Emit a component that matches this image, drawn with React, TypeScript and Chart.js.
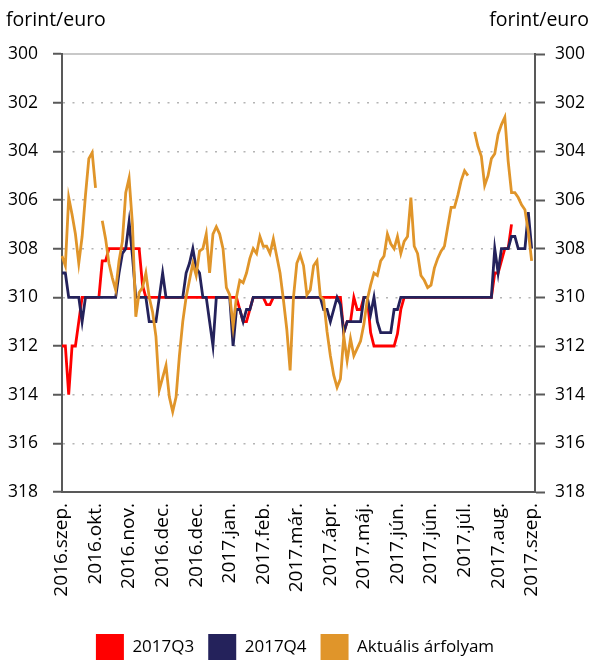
import { useEffect, useRef } from 'react';
import { Chart, registerables } from 'chart.js';

Chart.register(...registerables);

const FONT = "'Open Sans', sans-serif";
const unitLabel = 'forint/euro';

const monthLabels = [
  '2016.szep.', '2016.okt.', '2016.nov.', '2016.dec.', '2016.dec.',
  '2017.jan.', '2017.feb.', '2017.már.', '2017.ápr.', '2017.máj.',
  '2017.jún.', '2017.jún.', '2017.júl.', '2017.aug.', '2017.szep.',
];
const labelEvery = 10;

const seriesNames = ['2017Q3', '2017Q4', 'Aktuális árfolyam'];

const q3 = [
  312, 312, 314, 312, 312, 311, 310, 310, 310, 310,
  310, 310, 308.5, 308.5, 308, 308, 308, 308, 308, 308,
  308, 308, 308, 308, 309.5, 310, 310, 310, 310, 310,
  310, 310, 310, 310, 310, 310, 310, 310, 310, 310,
  310, 310, 310, 310, 310, 310, 310, 310, 310, 310,
  310, 310, 310, 310.5, 311, 311, 310.5, 310, 310, 310,
  310, 310.3, 310.3, 310, 310, 310, 310, 310, 310, 310,
  310, 310, 310, 310, 310, 310, 310, 310, 310, 310,
  310, 310, 310, 310, 311.45, 311, 311, 310, 310.5, 310.5,
  310, 310, 311.45, 312, 312, 312, 312, 312, 312, 312,
  311.5, 310.5, 310, 310, 310, 310, 310, 310, 310, 310,
  310, 310, 310, 310, 310, 310, 310, 310, 310, 310,
  310, 310, 310, 310, 310, 310, 310, 310, 310, 309,
  309, 308.5, 308, 308, 307, null, null, null, null, null,
  null, null,
];

const q4 = [
  309, 309, 310, 310, 310, 310, 311, 310, 310, 310,
  310, 310, 310, 310, 310, 310, 310, 309, 308.2, 308,
  306.9, 308.3, 310, 310, 310, 310, 311, 311, 311, 310,
  309, 310, 310, 310, 310, 310, 310, 309, 308.6, 308,
  308.8, 309, 310, 310, 311, 312, 310, 310, 310, 310,
  310, 312, 310.5, 310.5, 311, 310.5, 310.5, 310, 310, 310,
  310, 310, 310, 310, 310, 310, 310, 310, 310, 310,
  310, 310, 310, 310, 310, 310, 310, 310, 310.5, 310.5,
  311, 310.5, 310, 310.3, 311.45, 311, 311, 311, 311, 311,
  310, 310, 310.7, 310, 311, 311.45, 311.45, 311.45, 311.45, 310.5,
  310.5, 310, 310, 310, 310, 310, 310, 310, 310, 310,
  310, 310, 310, 310, 310, 310, 310, 310, 310, 310,
  310, 310, 310, 310, 310, 310, 310, 310, 310, 308,
  309, 308, 308, 308, 307.5, 307.5, 308, 308, 308, 306.5,
  308, null,
];

const spot = [
  308.3, 308.7, 305.9, 306.6, 307.4, 308.6, 307.5, 305.8, 304.3, 304.05,
  305.5, null, 306.85, 307.6, 308.6, 309.2, 309.7, 308.5, 307.7, 305.7,
  305.1, 307.0, 310.8, 309.8, 309.6, 309.0, 310.0, 310.6, 311.6, 313.8,
  313.3, 312.8, 314.1, 314.7, 314.1, 312.4, 311.0, 310.0, 309.3, 308.6,
  309.1, 308.1, 308.0, 307.4, 309.0, 307.4, 307.1, 307.4, 308.0, 309.6,
  309.9, 311.2, 310.0, 309.3, 309.4, 309.0, 308.4, 308.0, 308.2, 307.5,
  307.9, 307.9, 308.2, 307.6, 308.3, 309.0, 310.1, 311.3, 313.0, 310.0,
  308.6, 308.25, 308.7, 309.9, 309.7, 308.7, 308.5, 309.95, 310.1, 311.4,
  312.4, 313.2, 313.7, 313.35, 311.6, 312.6, 311.7, 312.4, 312.1, 311.8,
  311.1, 310.1, 309.5, 309.0, 309.1, 308.5, 308.3, 307.4, 307.8, 308.0,
  307.5, 308.2, 307.7, 307.5, 305.9, 307.9, 308.2, 309.1, 309.3, 309.6,
  309.5, 308.8, 308.4, 308.1, 307.9, 307.1, 306.3, 306.3, 305.8, 305.2,
  304.8, 305.0, null, 303.2, 303.8, 304.2, 305.4, 305.0, 304.3, 304.1,
  303.3, 302.9, 302.6, 304.4, 305.7, 305.7, 305.9, 306.2, 306.4, 307.3,
  308.5, null,
];

const categories = spot.map((_, i) => (i % labelEvery === 0 ? monthLabels[i / labelEvery] : ''));

const yMin = 300;
const yMax = 318;
const yStep = 2;

const colors = ['#ff0000', '#24225b', '#e0952a'];

export default function App() {
  const canvasRef = useRef<HTMLCanvasElement | null>(null);

  useEffect(() => {
    document.body.style.margin = '0';
    const canvas = canvasRef.current;
    if (!canvas) return;

    const titlePlugin = {
      id: 'unitTitles',
      afterDraw(chart: any) {
        const ctx = chart.ctx;
        ctx.save();
        ctx.font = `19.5px ${FONT}`;
        ctx.fillStyle = '#000';
        ctx.textBaseline = 'middle';
        ctx.textAlign = 'left';
        ctx.fillText(unitLabel, 6, 20);
        ctx.textAlign = 'right';
        ctx.fillText(unitLabel, 589, 20);
        ctx.restore();
      },
    };

    const yTicks = { stepSize: yStep, font: { size: 17.5, family: FONT }, color: '#000' };

    const chart = new Chart(canvas, {
      type: 'line',
      data: {
        labels: categories,
        datasets: [
          { label: seriesNames[0], data: q3, borderColor: colors[0], backgroundColor: colors[0], borderWidth: 2.8, pointRadius: 0, order: 2 },
          { label: seriesNames[1], data: q4, borderColor: colors[1], backgroundColor: colors[1], borderWidth: 2.8, pointRadius: 0, order: 1 },
          { label: seriesNames[2], data: spot, borderColor: colors[2], backgroundColor: colors[2], borderWidth: 2.8, pointRadius: 0, order: 0 },
        ],
      },
      options: {
        animation: false,
        responsive: false,
        layout: { padding: { top: 54, bottom: -7, left: 0, right: 0 } },
        plugins: {
          legend: {
            position: 'bottom',
            labels: {
              boxWidth: 28,
              boxHeight: 26,
              padding: 14,
              color: '#000',
              font: { size: 17, family: FONT },
              sort: (a: any, b: any) => a.datasetIndex - b.datasetIndex,
              generateLabels: (c: any) =>
                Chart.defaults.plugins.legend.labels.generateLabels(c).map((l: any) => ({ ...l, lineWidth: 0 })),
            },
          },
          tooltip: { enabled: false },
          title: { display: false },
        },
        scales: {
          x: {
            type: 'category',
            position: 'bottom',
            grid: { display: false, drawTicks: false },
            border: { display: true, color: '#595959', width: 2 },
            ticks: {
              autoSkip: false,
              minRotation: 90,
              maxRotation: 90,
              padding: 11,
              color: '#000',
              font: { size: 19, family: FONT },
            },
            afterFit: (s: any) => { s.height = 128; },
          },
          x2: {
            type: 'category',
            position: 'top',
            grid: { display: false, drawTicks: false },
            border: { display: true, color: '#c8c8c8', width: 2 },
            ticks: { display: false },
            afterFit: (s: any) => { s.height = 0; },
          },
          y: {
            position: 'left',
            reverse: true,
            min: yMin,
            max: yMax,
            ticks: { ...yTicks, padding: 15 },
            grid: { color: '#b4b4b4', lineWidth: 1.5, tickColor: '#595959', tickLength: 9, tickWidth: 2 },
            border: { color: '#595959', width: 2, dash: [2, 7.5] },
            afterFit: (s: any) => { s.width = 62; },
          },
          y2: {
            position: 'right',
            reverse: true,
            min: yMin,
            max: yMax,
            ticks: { ...yTicks, padding: 10 },
            grid: { drawOnChartArea: false, tickColor: '#595959', tickLength: 10, tickWidth: 2 },
            border: { color: '#595959', width: 2 },
            afterFit: (s: any) => { s.width = 55; },
          },
        },
      },
      plugins: [titlePlugin],
    } as any);

    return () => chart.destroy();
  }, []);

  return <canvas ref={canvasRef} width={590} height={663} style={{ display: 'block' }} />;
}
